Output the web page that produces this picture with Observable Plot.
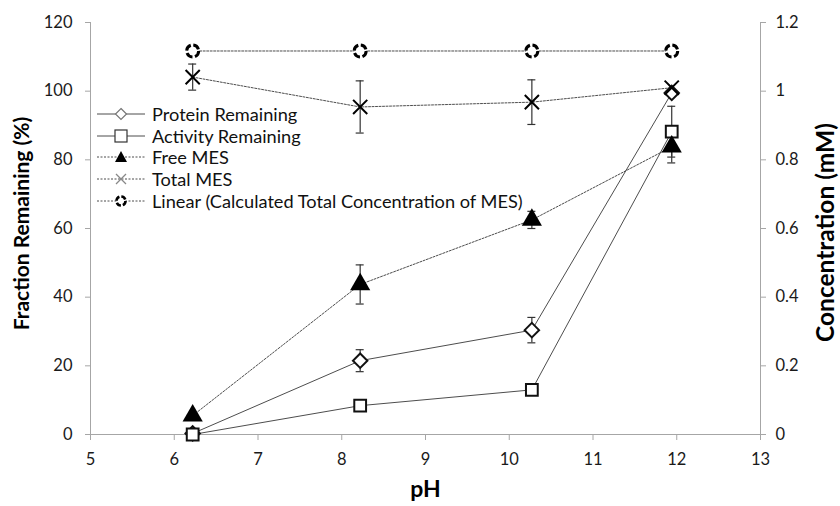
<!DOCTYPE html>
<html><head><meta charset="utf-8">
<script src="https://cdn.jsdelivr.net/npm/d3@7"></script>
<script src="https://cdn.jsdelivr.net/npm/@observablehq/plot@0.6"></script>
<style>
body{margin:0;background:#fff;}
#wrap{position:relative;width:840px;height:506px;font-family:Lato,"Open Sans",sans-serif;}
#legend{position:absolute;left:97px;top:103px;font-size:18.2px;color:#111;}
#legend .row{display:flex;align-items:center;height:21.7px;}
#legend svg{margin-right:7px;}
</style></head>
<body><div id="wrap"></div>
<script>
// ---- data ----
const pH = [6.22, 8.22, 10.27, 11.94];
const proteinRemaining = [0.3, 21.5, 30.4, 99.5];
const proteinErr = [0, 3.2, 3.7, 0];
const activityRemaining = [0, 8.4, 13.0, 88.2];
const activityErr = [0, 0, 0, 7.4];
const freeMES = [0.055, 0.437, 0.625, 0.838];      // mM
const freeMESErr = [0, 0.057, 0.025, 0.047];
const totalMES = [1.041, 0.954, 0.968, 1.010];     // mM
const totalMESErr = [0.038, 0.076, 0.065, 0];
const calcTotalMES = [1.117, 1.117, 1.117, 1.117]; // mM
const xTicks = [5, 6, 7, 8, 9, 10, 11, 12, 13];
const leftTicks = [0, 20, 40, 60, 80, 100, 120];
const rightTicks = [0, 0.2, 0.4, 0.6, 0.8, 1, 1.2];
const seriesNames = ["Protein Remaining", "Activity Remaining", "Free MES", "Total MES", "Linear (Calculated Total Concentration of MES)"];

// concentration (mM) -> left-axis units (0..1.2 mM spans 0..120 %)
const k = leftTicks[leftTicks.length - 1] / rightTicks[rightTicks.length - 1];
function rows(vals, errs, scale) {
  return pH.map((x, i) => ({x, y: vals[i] * scale, lo: (vals[i] - (errs ? errs[i] : 0)) * scale, hi: (vals[i] + (errs ? errs[i] : 0)) * scale, e: errs ? errs[i] : 0}));
}
const prot = rows(proteinRemaining, proteinErr, 1);
const act = rows(activityRemaining, activityErr, 1);
const free = rows(freeMES, freeMESErr, k);
const total = rows(totalMES, totalMESErr, k);
const calc = rows(calcTotalMES, null, k);

const lineC = "#4d4d4d", axisC = "#a6a6a6", txtC = "#1a1a1a";
const font = "Lato, 'Open Sans', sans-serif";
const errMarks = (data) => {
  const d = data.filter(r => r.e > 0);
  return [
    Plot.ruleX(d, {x: "x", y1: "lo", y2: "hi", stroke: "#333", strokeWidth: 1.2}),
    Plot.ruleY(d, {y: "lo", x1: "x", x2: "x", insetLeft: -4, insetRight: -4, stroke: "#333", strokeWidth: 1.2}),
    Plot.ruleY(d, {y: "hi", x1: "x", x2: "x", insetLeft: -4, insetRight: -4, stroke: "#333", strokeWidth: 1.2})
  ];
};

const chart = Plot.plot({
  width: 840, height: 506,
  marginLeft: 90, marginRight: 80, marginTop: 22, marginBottom: 72,
  style: {fontFamily: font, background: "white"},
  x: {domain: [5, 13]},
  y: {domain: [0, 120]},
  marks: [
    Plot.axisX(xTicks, {tickSize: 6, tickPadding: 13, stroke: axisC, fill: txtC, fontSize: 16.5, label: null}),
    Plot.axisY(leftTicks, {anchor: "left", tickSize: 5, tickPadding: 13, stroke: axisC, fill: txtC, fontSize: 16.5, label: null}),
    Plot.axisY(rightTicks.map(t => t * k), {anchor: "right", tickSize: 5, tickPadding: 10, stroke: axisC, fill: txtC, fontSize: 16.5, label: null, tickFormat: (d, i) => String(rightTicks[i])}),
    Plot.ruleY([0], {stroke: axisC}),
    Plot.ruleX([xTicks[0]], {stroke: axisC}),
    Plot.ruleX([xTicks[xTicks.length - 1]], {stroke: axisC}),
    // lines
    Plot.line(calc, {x: "x", y: "y", stroke: lineC, strokeWidth: 1, strokeDasharray: "2,1.5"}),
    Plot.line(total, {x: "x", y: "y", stroke: lineC, strokeWidth: 1, strokeDasharray: "2,1.5"}),
    Plot.line(free, {x: "x", y: "y", stroke: lineC, strokeWidth: 1, strokeDasharray: "2,1.5"}),
    Plot.line(prot, {x: "x", y: "y", stroke: lineC, strokeWidth: 1}),
    Plot.line(act, {x: "x", y: "y", stroke: lineC, strokeWidth: 1}),
    // error bars
    ...errMarks(total), ...errMarks(free), ...errMarks(prot), ...errMarks(act),
    // markers
    Plot.dot(prot, {x: "x", y: "y", symbol: "diamond2", r: 6.5, stroke: "#111", strokeWidth: 2, fill: "white"}),
    Plot.dot(act, {x: "x", y: "y", symbol: "square2", r: 7.5, stroke: "#111", strokeWidth: 2, fill: "white"}),
    Plot.dot(free, {x: "x", y: "y", symbol: "triangle", r: 7.5, fill: "#000", stroke: "none"}),
    Plot.dot(total, {x: "x", y: "y", symbol: "times", r: 6.5, stroke: "#000", strokeWidth: 2}),
    Plot.dot(calc, {x: "x", y: "y", symbol: "circle", r: 6, stroke: "#000", strokeWidth: 3, strokeDasharray: "6.8,2.6", fill: "white"}),
    // axis titles
    Plot.text(["Fraction Remaining (%)"], {frameAnchor: "left", textAnchor: "middle", dx: -68, dy: -5, rotate: -90, fontWeight: "bold", fontSize: 21, fill: "#000"}),
    Plot.text(["Concentration (mM)"], {frameAnchor: "right", textAnchor: "middle", dx: 66, dy: 4, rotate: -90, fontWeight: "bold", fontSize: 24.5, fill: "#000"}),
    Plot.text(["pH"], {frameAnchor: "bottom", textAnchor: "middle", dy: 62, fontWeight: "bold", fontSize: 23, fill: "#000"})
  ]
});
const wrap = document.getElementById("wrap");
wrap.appendChild(chart);

// legend
const sym = {
  0: '<line x1="0" y1="8" x2="48" y2="8" stroke="#4d4d4d"/><path d="M24,2.5 L29.5,8 L24,13.5 L18.5,8Z" fill="white" stroke="#777" stroke-width="1.2"/>',
  1: '<line x1="0" y1="8" x2="48" y2="8" stroke="#4d4d4d"/><rect x="18" y="2" width="12" height="12" fill="white" stroke="#333" stroke-width="1.2"/>',
  2: '<line x1="0" y1="8" x2="48" y2="8" stroke="#4d4d4d" stroke-dasharray="2,1.5"/><path d="M24,2 L30,13 L18,13Z" fill="#000"/>',
  3: '<line x1="0" y1="8" x2="48" y2="8" stroke="#4d4d4d" stroke-dasharray="2,1.5"/><path d="M19,3 L29,13 M29,3 L19,13" stroke="#888" stroke-width="1.3"/>',
  4: '<line x1="0" y1="8" x2="48" y2="8" stroke="#4d4d4d" stroke-dasharray="2,1.5"/><circle cx="24" cy="8" r="4.5" fill="white" stroke="#000" stroke-width="2.6" stroke-dasharray="5,2"/>'
};
const leg = document.createElement("div");
leg.id = "legend";
leg.innerHTML = seriesNames.map((n, i) => `<div class="row"><svg width="48" height="16">${sym[i]}</svg><span>${n}</span></div>`).join("");
wrap.appendChild(leg);
</script>
</body></html>
